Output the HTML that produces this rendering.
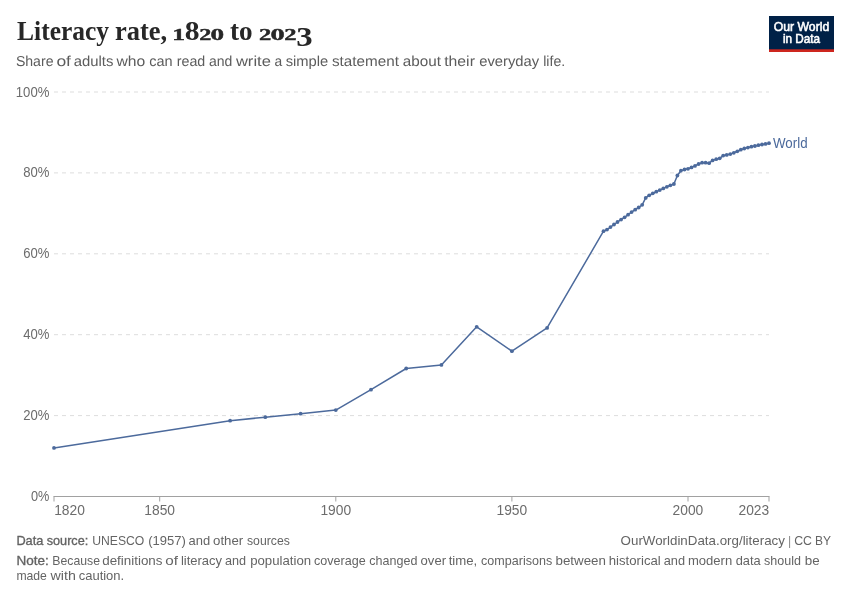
<!DOCTYPE html>
<html lang="en"><head><meta charset="utf-8"><title>Literacy rate, 1820 to 2023</title>
<style>
html,body{margin:0;padding:0;background:#fff;}
body{width:850px;height:600px;overflow:hidden;position:relative;font-family:"Liberation Sans",sans-serif;}
svg{position:absolute;left:0;top:0;}
.sans{font-family:"Liberation Sans",sans-serif;}
.serif{font-family:"Liberation Serif",serif;}
</style></head><body>
<svg width="850" height="600" viewBox="0 0 850 600">
<rect width="850" height="600" fill="#fff"/>
<text class="serif" font-weight="bold" fill="#272727"><tspan x="17.1" y="40.1" font-size="27" textLength="91.9" lengthAdjust="spacingAndGlyphs">Literacy</tspan> <tspan x="115.0" y="40.1" font-size="27" textLength="52.2" lengthAdjust="spacingAndGlyphs">rate,</tspan> <tspan x="172.2" y="40.1" font-size="17.4" stroke="#272727" stroke-width="0.4" textLength="12.8" lengthAdjust="spacingAndGlyphs">1</tspan><tspan x="184.8" y="40.1" font-size="27" textLength="14.8" lengthAdjust="spacingAndGlyphs">8</tspan><tspan x="199.2" y="40.1" font-size="17.4" stroke="#272727" stroke-width="0.4" textLength="12.1" lengthAdjust="spacingAndGlyphs">2</tspan><tspan x="210.6" y="40.1" font-size="17.4" stroke="#272727" stroke-width="0.4" textLength="13.6" lengthAdjust="spacingAndGlyphs">0</tspan> <tspan x="230.0" y="40.1" font-size="27" textLength="22.6" lengthAdjust="spacingAndGlyphs">to</tspan> <tspan x="258.9" y="40.1" font-size="17.4" stroke="#272727" stroke-width="0.4" textLength="12.3" lengthAdjust="spacingAndGlyphs">2</tspan><tspan x="270.4" y="40.1" font-size="17.4" stroke="#272727" stroke-width="0.4" textLength="14.2" lengthAdjust="spacingAndGlyphs">0</tspan><tspan x="284.3" y="40.1" font-size="17.4" stroke="#272727" stroke-width="0.4" textLength="12.3" lengthAdjust="spacingAndGlyphs">2</tspan><tspan x="296.2" y="45.6" font-size="26.5" textLength="16.4" lengthAdjust="spacingAndGlyphs">3</tspan></text>
<g class="sans" font-size="14.4" fill="#5c5c5c" text-rendering="geometricPrecision"><text y="66.3"><tspan x="15.9" textLength="37.6" lengthAdjust="spacingAndGlyphs">Share</tspan> <tspan x="56.4" textLength="14.6" lengthAdjust="spacingAndGlyphs">of</tspan> <tspan x="73.7" textLength="39.7" lengthAdjust="spacingAndGlyphs">adults</tspan> <tspan x="116.5" textLength="28.8" lengthAdjust="spacingAndGlyphs">who</tspan> <tspan x="149.3" textLength="23.4" lengthAdjust="spacingAndGlyphs">can</tspan> <tspan x="176.7" textLength="28.6" lengthAdjust="spacingAndGlyphs">read</tspan> <tspan x="208.9" textLength="23.4" lengthAdjust="spacingAndGlyphs">and</tspan> <tspan x="235.9" textLength="35.0" lengthAdjust="spacingAndGlyphs">write</tspan> <tspan x="274.6" textLength="7.7" lengthAdjust="spacingAndGlyphs">a</tspan> <tspan x="285.7" textLength="42.6" lengthAdjust="spacingAndGlyphs">simple</tspan> <tspan x="331.9" textLength="67.0" lengthAdjust="spacingAndGlyphs">statement</tspan> <tspan x="402.8" textLength="38.2" lengthAdjust="spacingAndGlyphs">about</tspan> <tspan x="444.2" textLength="30.7" lengthAdjust="spacingAndGlyphs">their</tspan> <tspan x="479.2" textLength="60.0" lengthAdjust="spacingAndGlyphs">everyday</tspan> <tspan x="543.2" textLength="22.0" lengthAdjust="spacingAndGlyphs">life.</tspan></text></g>
<g>
<rect x="769" y="16" width="65" height="36" fill="#002147"/>
<rect x="769" y="49.3" width="65" height="2.7" fill="#ce261e"/>
<text class="sans" x="801.5" y="31.3" font-size="12.2" stroke="#fff" stroke-width="0.55" fill="#fff" text-anchor="middle" textLength="55.4" lengthAdjust="spacingAndGlyphs">Our World</text>
<text class="sans" x="801.5" y="43.3" font-size="12.2" stroke="#fff" stroke-width="0.55" fill="#fff" text-anchor="middle" textLength="37.2" lengthAdjust="spacingAndGlyphs">in Data</text>
</g>
<g stroke="#dddddd" stroke-width="1" stroke-dasharray="4,4" fill="none"><line x1="54" x2="769" y1="415.6" y2="415.6"/><line x1="54" x2="769" y1="334.7" y2="334.7"/><line x1="54" x2="769" y1="253.8" y2="253.8"/><line x1="54" x2="769" y1="172.9" y2="172.9"/><line x1="54" x2="769" y1="92.0" y2="92.0"/></g>
<g class="sans" font-size="13.8" fill="#6c6c6c"><text x="49.4" y="501.0" text-anchor="end" textLength="18.4" lengthAdjust="spacingAndGlyphs">0%</text><text x="49.4" y="420.1" text-anchor="end" textLength="26.2" lengthAdjust="spacingAndGlyphs">20%</text><text x="49.4" y="339.2" text-anchor="end" textLength="26.2" lengthAdjust="spacingAndGlyphs">40%</text><text x="49.4" y="258.3" text-anchor="end" textLength="26.2" lengthAdjust="spacingAndGlyphs">60%</text><text x="49.4" y="177.4" text-anchor="end" textLength="26.2" lengthAdjust="spacingAndGlyphs">80%</text><text x="49.4" y="96.5" text-anchor="end" textLength="33.6" lengthAdjust="spacingAndGlyphs">100%</text></g>
<line x1="53.5" x2="769.5" y1="496.5" y2="496.5" stroke="#a1a1a1" stroke-width="1"/>
<g class="sans" font-size="13.8" fill="#6c6c6c"><line x1="54.0" x2="54.0" y1="496.5" y2="501.5" stroke="#a1a1a1"/><text x="54.2" y="514.9" textLength="30.7" lengthAdjust="spacingAndGlyphs">1820</text><line x1="159.7" x2="159.7" y1="496.5" y2="501.5" stroke="#a1a1a1"/><text x="144.3" y="514.9" textLength="30.7" lengthAdjust="spacingAndGlyphs">1850</text><line x1="335.8" x2="335.8" y1="496.5" y2="501.5" stroke="#a1a1a1"/><text x="320.4" y="514.9" textLength="30.7" lengthAdjust="spacingAndGlyphs">1900</text><line x1="511.9" x2="511.9" y1="496.5" y2="501.5" stroke="#a1a1a1"/><text x="496.5" y="514.9" textLength="30.7" lengthAdjust="spacingAndGlyphs">1950</text><line x1="688.0" x2="688.0" y1="496.5" y2="501.5" stroke="#a1a1a1"/><text x="672.6" y="514.9" textLength="30.7" lengthAdjust="spacingAndGlyphs">2000</text><line x1="769.0" x2="769.0" y1="496.5" y2="501.5" stroke="#a1a1a1"/><text x="738.5" y="514.9" textLength="30.7" lengthAdjust="spacingAndGlyphs">2023</text></g>
<polyline points="54.0,447.9 230.1,420.7 265.3,417.2 300.6,413.7 335.8,410.1 371.0,389.7 406.2,368.5 441.4,364.9 476.7,326.8 511.9,351.2 547.1,327.9 603.5,231.2 607.0,229.6 610.5,227.1 614.0,224.5 617.5,222.0 621.1,219.6 624.6,217.3 628.1,214.7 631.6,212.1 635.2,209.7 638.7,207.5 642.2,204.8 645.7,197.9 649.2,195.3 652.8,193.3 656.3,191.7 659.8,190.1 663.3,188.4 666.9,186.8 670.4,185.3 673.9,184.0 677.4,175.5 680.9,170.7 684.5,169.5 688.0,168.8 691.5,167.4 695.0,165.9 698.6,164.0 702.1,162.7 705.6,162.7 709.1,163.2 712.6,160.4 716.2,159.2 719.7,158.3 723.2,155.6 726.7,154.9 730.3,154.1 733.8,152.8 737.3,151.3 740.8,149.7 744.3,148.5 747.9,147.6 751.4,146.7 754.9,146.0 758.4,145.2 762.0,144.5 765.5,143.9 769.0,143.2" fill="none" stroke="#4c6a9c" stroke-width="1.5" stroke-linejoin="round" stroke-linecap="round"/>
<g fill="#4c6a9c"><circle cx="54.0" cy="447.9" r="1.9"/><circle cx="230.1" cy="420.7" r="1.9"/><circle cx="265.3" cy="417.2" r="1.9"/><circle cx="300.6" cy="413.7" r="1.9"/><circle cx="335.8" cy="410.1" r="1.9"/><circle cx="371.0" cy="389.7" r="1.9"/><circle cx="406.2" cy="368.5" r="1.9"/><circle cx="441.4" cy="364.9" r="1.9"/><circle cx="476.7" cy="326.8" r="1.9"/><circle cx="511.9" cy="351.2" r="1.9"/><circle cx="547.1" cy="327.9" r="1.9"/><circle cx="603.5" cy="231.2" r="1.9"/><circle cx="607.0" cy="229.6" r="1.9"/><circle cx="610.5" cy="227.1" r="1.9"/><circle cx="614.0" cy="224.5" r="1.9"/><circle cx="617.5" cy="222.0" r="1.9"/><circle cx="621.1" cy="219.6" r="1.9"/><circle cx="624.6" cy="217.3" r="1.9"/><circle cx="628.1" cy="214.7" r="1.9"/><circle cx="631.6" cy="212.1" r="1.9"/><circle cx="635.2" cy="209.7" r="1.9"/><circle cx="638.7" cy="207.5" r="1.9"/><circle cx="642.2" cy="204.8" r="1.9"/><circle cx="645.7" cy="197.9" r="1.9"/><circle cx="649.2" cy="195.3" r="1.9"/><circle cx="652.8" cy="193.3" r="1.9"/><circle cx="656.3" cy="191.7" r="1.9"/><circle cx="659.8" cy="190.1" r="1.9"/><circle cx="663.3" cy="188.4" r="1.9"/><circle cx="666.9" cy="186.8" r="1.9"/><circle cx="670.4" cy="185.3" r="1.9"/><circle cx="673.9" cy="184.0" r="1.9"/><circle cx="677.4" cy="175.5" r="1.9"/><circle cx="680.9" cy="170.7" r="1.9"/><circle cx="684.5" cy="169.5" r="1.9"/><circle cx="688.0" cy="168.8" r="1.9"/><circle cx="691.5" cy="167.4" r="1.9"/><circle cx="695.0" cy="165.9" r="1.9"/><circle cx="698.6" cy="164.0" r="1.9"/><circle cx="702.1" cy="162.7" r="1.9"/><circle cx="705.6" cy="162.7" r="1.9"/><circle cx="709.1" cy="163.2" r="1.9"/><circle cx="712.6" cy="160.4" r="1.9"/><circle cx="716.2" cy="159.2" r="1.9"/><circle cx="719.7" cy="158.3" r="1.9"/><circle cx="723.2" cy="155.6" r="1.9"/><circle cx="726.7" cy="154.9" r="1.9"/><circle cx="730.3" cy="154.1" r="1.9"/><circle cx="733.8" cy="152.8" r="1.9"/><circle cx="737.3" cy="151.3" r="1.9"/><circle cx="740.8" cy="149.7" r="1.9"/><circle cx="744.3" cy="148.5" r="1.9"/><circle cx="747.9" cy="147.6" r="1.9"/><circle cx="751.4" cy="146.7" r="1.9"/><circle cx="754.9" cy="146.0" r="1.9"/><circle cx="758.4" cy="145.2" r="1.9"/><circle cx="762.0" cy="144.5" r="1.9"/><circle cx="765.5" cy="143.9" r="1.9"/><circle cx="769.0" cy="143.2" r="1.9"/></g>
<text class="sans" x="773" y="147.6" font-size="13.8" fill="#4c6a9c" textLength="34.6" lengthAdjust="spacingAndGlyphs">World</text>
<g class="sans" font-size="13.3" fill="#646464">
<text y="545.1"><tspan x="16.4" textLength="27.0" lengthAdjust="spacingAndGlyphs" stroke="#626262" stroke-width="0.34" fill="#626262">Data</tspan> <tspan x="46.7" textLength="41.6" lengthAdjust="spacingAndGlyphs" stroke="#626262" stroke-width="0.34" fill="#626262">source:</tspan> <tspan x="92.2" textLength="52.1" lengthAdjust="spacingAndGlyphs">UNESCO</tspan> <tspan x="148.2" textLength="37.6" lengthAdjust="spacingAndGlyphs">(1957)</tspan> <tspan x="188.5" textLength="21.6" lengthAdjust="spacingAndGlyphs">and</tspan> <tspan x="213.1" textLength="30.1" lengthAdjust="spacingAndGlyphs">other</tspan> <tspan x="247.0" textLength="42.8" lengthAdjust="spacingAndGlyphs">sources</tspan></text>
<text y="545.1"><tspan x="620.6" textLength="164.3" lengthAdjust="spacingAndGlyphs">OurWorldinData.org/literacy</tspan> <tspan x="788.5" textLength="2.4" lengthAdjust="spacingAndGlyphs">|</tspan> <tspan x="794.2" textLength="17.8" lengthAdjust="spacingAndGlyphs">CC</tspan> <tspan x="814.9" textLength="16.0" lengthAdjust="spacingAndGlyphs">BY</tspan></text>
<text y="564.8"><tspan x="16.4" textLength="32.3" lengthAdjust="spacingAndGlyphs" stroke="#626262" stroke-width="0.34" fill="#626262">Note:</tspan> <tspan x="52.3" textLength="47.7" lengthAdjust="spacingAndGlyphs">Because</tspan> <tspan x="102.2" textLength="60.3" lengthAdjust="spacingAndGlyphs">definitions</tspan> <tspan x="165.3" textLength="12.7" lengthAdjust="spacingAndGlyphs">of</tspan> <tspan x="180.9" textLength="41.1" lengthAdjust="spacingAndGlyphs">literacy</tspan> <tspan x="224.9" textLength="21.1" lengthAdjust="spacingAndGlyphs">and</tspan> <tspan x="250.2" textLength="60.9" lengthAdjust="spacingAndGlyphs">population</tspan> <tspan x="314.0" textLength="51.7" lengthAdjust="spacingAndGlyphs">coverage</tspan> <tspan x="369.3" textLength="48.1" lengthAdjust="spacingAndGlyphs">changed</tspan> <tspan x="420.6" textLength="25.4" lengthAdjust="spacingAndGlyphs">over</tspan> <tspan x="448.7" textLength="28.6" lengthAdjust="spacingAndGlyphs">time,</tspan> <tspan x="481.1" textLength="71.1" lengthAdjust="spacingAndGlyphs">comparisons</tspan> <tspan x="555.5" textLength="50.4" lengthAdjust="spacingAndGlyphs">between</tspan> <tspan x="608.8" textLength="51.9" lengthAdjust="spacingAndGlyphs">historical</tspan> <tspan x="663.7" textLength="21.3" lengthAdjust="spacingAndGlyphs">and</tspan> <tspan x="687.9" textLength="44.3" lengthAdjust="spacingAndGlyphs">modern</tspan> <tspan x="735.7" textLength="25.0" lengthAdjust="spacingAndGlyphs">data</tspan> <tspan x="764.1" textLength="36.9" lengthAdjust="spacingAndGlyphs">should</tspan> <tspan x="804.7" textLength="14.9" lengthAdjust="spacingAndGlyphs">be</tspan></text>
<text y="580.4"><tspan x="16.4" textLength="30.5" lengthAdjust="spacingAndGlyphs">made</tspan> <tspan x="50.5" textLength="25.3" lengthAdjust="spacingAndGlyphs">with</tspan> <tspan x="78.7" textLength="45.5" lengthAdjust="spacingAndGlyphs">caution.</tspan></text>
</g>
</svg>
</body></html>
